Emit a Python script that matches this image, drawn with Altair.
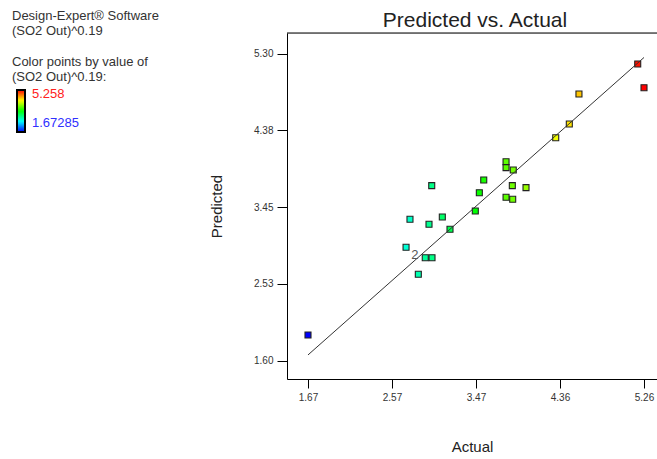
import altair as alt
import pandas as pd

# ---- data ----
actual = [1.67285, 5.191, 5.258, 4.564, 4.461, 4.316, 3.786, 3.786, 3.863, 3.548,
          3.853, 3.999, 3.501, 3.786, 3.857, 3.458, 2.993, 2.761, 3.106, 2.964,
          3.188, 2.719, 2.924, 2.996, 2.850]
predicted = [1.913, 5.180, 4.894, 4.818, 4.456, 4.291, 4.002, 3.930, 3.902, 3.782,
             3.713, 3.689, 3.628, 3.573, 3.549, 3.408, 3.713, 3.308, 3.336, 3.248,
             3.187, 2.970, 2.845, 2.845, 2.645]
line_x = [1.67285, 5.258]
line_y = [1.67285, 5.258]
dup_x = [2.814]
dup_y = [2.878]
dup_label = ["2"]
x_ticks = [1.67285, 2.56914, 3.46543, 4.36171, 5.258]
y_ticks = [1.60, 2.53, 3.45, 4.38, 5.30]
color_domain = [1.67285, 3.465425, 5.258]
color_range = ["#0000ff", "#00ff00", "#ff0000"]
header_lines_1 = ["Design-Expert® Software", "(SO2 Out)^0.19"]
header_lines_2 = ["Color points by value of", "(SO2 Out)^0.19:"]
legend_max = "5.258"
legend_min = "1.67285"
title_text = "Predicted vs. Actual"

FONT = "Liberation Sans"
W, H = 370, 346
X_DOM = [1.4488, 5.3967]
Y_DOM = [1.383, 5.553]
L, T = 287, 33

pts = pd.DataFrame({"Actual": actual, "Predicted": predicted})
ln = pd.DataFrame({"Actual": line_x, "Predicted": line_y})
dup = pd.DataFrame({"Actual": dup_x, "Predicted": dup_y, "label": dup_label})
one = pd.DataFrame({"_": [0]})

xs = alt.Scale(domain=X_DOM, nice=False, zero=False)
ys = alt.Scale(domain=Y_DOM, nice=False, zero=False)

x_axis = alt.Axis(values=x_ticks, format=".2f", grid=False, tickSize=9,
                  labelFontSize=10, labelFont=FONT, labelColor="#333",
                  labelPadding=4, domainColor="#000", tickColor="#000",
                  title="Actual", titleFont=FONT, titleFontSize=15,
                  titleFontWeight="normal", titleColor="#222", titlePadding=37)
y_axis = alt.Axis(values=y_ticks, format=".2f", grid=False, tickSize=10,
                  labelFontSize=10, labelFont=FONT, labelColor="#333",
                  labelPadding=4, domainColor="#000", tickColor="#000",
                  title="Predicted", titleFont=FONT, titleFontSize=15,
                  titleFontWeight="normal", titleColor="#222", titlePadding=29)

points = alt.Chart(pts).mark_square(size=36, stroke="#222", strokeWidth=1.1,
                                    opacity=1, filled=True).encode(
    x=alt.X("Actual:Q", scale=xs, axis=x_axis),
    y=alt.Y("Predicted:Q", scale=ys, axis=y_axis),
    fill=alt.Fill("Actual:Q",
                  scale=alt.Scale(domain=color_domain, range=color_range,
                                  interpolate="hsl"),
                  legend=alt.Legend(orient="none", legendX=17 - L, legendY=90 - T,
                                    direction="vertical", gradientLength=42,
                                    gradientThickness=8,
                                    gradientStrokeColor="#000",
                                    gradientStrokeWidth=2, labelOpacity=0,
                                    title=None, padding=0)),
)

fit = alt.Chart(ln).mark_line(color="#333", strokeWidth=1).encode(
    x=alt.X("Actual:Q", scale=xs), y=alt.Y("Predicted:Q", scale=ys))

dup_txt = alt.Chart(dup).mark_text(font=FONT, fontSize=13, color="#555").encode(
    x=alt.X("Actual:Q", scale=xs), y=alt.Y("Predicted:Q", scale=ys),
    text="label:N")

top_border = alt.Chart(one).mark_rule(color="#000", strokeWidth=1).encode(
    x=alt.value(0), x2=alt.value(W), y=alt.value(0))

title = alt.Chart(one).mark_text(text=title_text, font=FONT, fontSize=21,
                                 color="#222", align="center",
                                 baseline="alphabetic").encode(
    x=alt.value(475 - L), y=alt.value(26.5 - T))

header1 = alt.Chart(one).mark_text(text=header_lines_1, font=FONT, fontSize=13,
                                   color="#333", align="left",
                                   baseline="alphabetic", lineHeight=15.5).encode(
    x=alt.value(12 - L), y=alt.value(19.5 - T))
header2 = alt.Chart(one).mark_text(text=header_lines_2, font=FONT, fontSize=13,
                                   color="#333", align="left",
                                   baseline="alphabetic", lineHeight=14.5).encode(
    x=alt.value(12 - L), y=alt.value(66 - T))

lab_max = alt.Chart(one).mark_text(text=legend_max, font=FONT, fontSize=13,
                                   color="#ff2020", align="left",
                                   baseline="alphabetic").encode(
    x=alt.value(32 - L), y=alt.value(98 - T))
lab_min = alt.Chart(one).mark_text(text=legend_min, font=FONT, fontSize=13,
                                   color="#3030ff", align="left",
                                   baseline="alphabetic").encode(
    x=alt.value(32 - L), y=alt.value(127 - T))

chart = alt.layer(points, fit, dup_txt, top_border, title, header1, header2,
                  lab_max, lab_min).properties(
    width=W, height=H,
    autosize=alt.AutoSizeParams(type="none"),
    padding={"left": L, "top": T, "right": 0, "bottom": 80},
).configure_view(stroke=None).configure(background="white")

chart.save("out.html", embed_options={"renderer": "svg", "actions": False})
